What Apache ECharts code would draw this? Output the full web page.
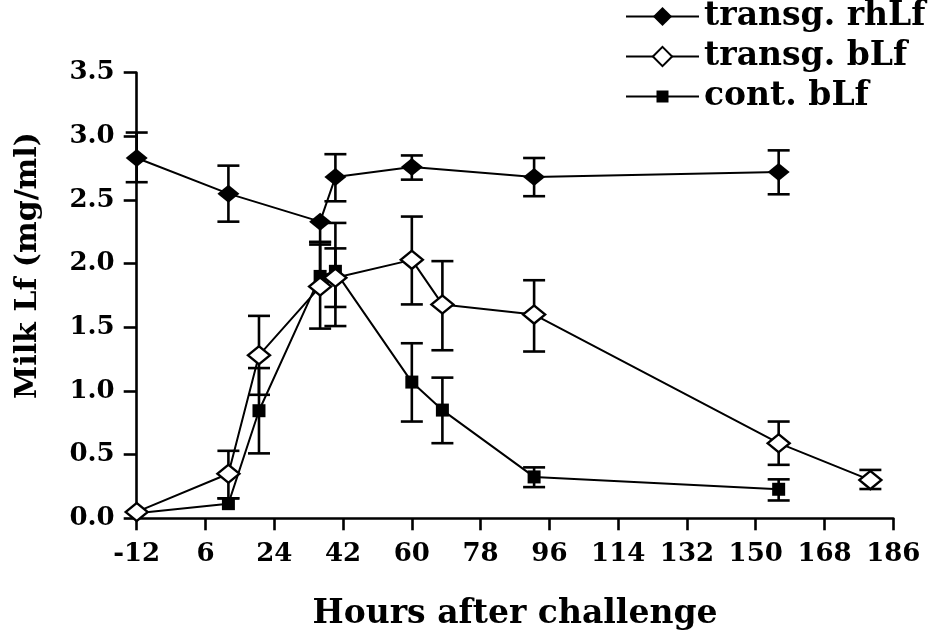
<!DOCTYPE html>
<html>
<head>
<meta charset="utf-8">
<script src="https://cdn.jsdelivr.net/npm/echarts@6/dist/echarts.min.js"></script>
<style>
  html, body { margin: 0; padding: 0; background: #fff; }
  #chart { width: 937px; height: 630px; }
</style>
</head>
<body>
<div id="chart"></div>
<script>
// Milk lactoferrin after challenge: means with error bar ends (low / high)
const xTicks = [-12, 6, 24, 42, 60, 78, 96, 114, 132, 150, 168, 186];
const yTicks = [0, 0.5, 1.0, 1.5, 2.0, 2.5, 3.0, 3.5];

const hoursRh = [-12, 12, 36, 40, 60, 92, 156];
const rhLf     = [2.83, 2.55, 2.33, 2.68, 2.76, 2.68, 2.72];
const rhLfLow  = [2.64, 2.33, 2.17, 2.49, 2.66, 2.53, 2.545];
const rhLfHigh = [3.03, 2.77, 2.33, 2.86, 2.85, 2.83, 2.89];

const hoursTb = [-12, 12, 20, 36, 40, 60, 68, 92, 156, 180];
const transgBLf     = [0.05, 0.35, 1.28, 1.82, 1.89, 2.03, 1.68, 1.60, 0.59, 0.30];
const transgBLfLow  = [0.05, 0.157, 0.97, 1.49, 1.66, 1.68, 1.32, 1.31, 0.42, 0.23];
const transgBLfHigh = [0.05, 0.53, 1.59, 2.15, 2.12, 2.37, 2.02, 1.87, 0.76, 0.38];

const hoursCb = [-12, 12, 20, 36, 40, 60, 68, 92, 156];
const contBLf     = [0.04, 0.115, 0.845, 1.90, 1.94, 1.07, 0.85, 0.325, 0.228];
const contBLfLow  = [0.04, 0.115, 0.51, 1.90, 1.51, 0.76, 0.59, 0.245, 0.14];
const contBLfHigh = [0.04, 0.157, 1.18, 2.17, 2.32, 1.375, 1.105, 0.40, 0.306];

const FONT = 'DejaVu Serif';
const BLACK = '#000';

function pairs(xs, ys) { return xs.map((x, i) => [x, ys[i]]); }
function bars(xs, ys, lo, hi) { return xs.map((x, i) => [x, lo[i], hi[i], ys[i]]); }

function renderErrorBar(params, api) {
  const x = api.value(0), lo = api.value(1), hi = api.value(2), v = api.value(3);
  const pLo = api.coord([x, lo]);
  const pHi = api.coord([x, hi]);
  const half = 11;
  const st = { stroke: BLACK, lineWidth: 2.6 };
  const children = [];
  if (hi > lo) {
    children.push({ type: 'line', shape: { x1: pLo[0], y1: pLo[1], x2: pHi[0], y2: pHi[1] }, style: st });
  }
  if (hi > v) {
    children.push({ type: 'line', shape: { x1: pHi[0] - half, y1: pHi[1], x2: pHi[0] + half, y2: pHi[1] }, style: st });
  }
  if (lo < v) {
    children.push({ type: 'line', shape: { x1: pLo[0] - half, y1: pLo[1], x2: pLo[0] + half, y2: pLo[1] }, style: st });
  }
  return { type: 'group', children: children };
}

function errorSeries(name, data) {
  return {
    name: name,
    type: 'custom',
    renderItem: renderErrorBar,
    encode: { x: 0, y: [1, 2] },
    data: data,
    z: 1,
    silent: true
  };
}

// the first control sample sits under the open diamond at -12 h
const contData = pairs(hoursCb, contBLf).map((p, i) => i === 0 ? { value: p, symbolSize: 0 } : p);

const legendText = { fontFamily: FONT, fontWeight: 'bold', fontSize: 33, color: BLACK };
function legendRow(name, top, h) {
  return {
    data: [name],
    left: 625, top: top,
    padding: 0,
    itemWidth: 73, itemHeight: h,
    textStyle: legendText,
    selectedMode: false
  };
}

const option = {
  animation: false,
  backgroundColor: '#fff',
  grid: { left: 136.7, top: 72.7, width: 756.6, height: 445.6, containLabel: false, outerBoundsMode: 'none' },
  legend: [
    legendRow('transg. rhLf', 0, 24),
    legendRow('transg. bLf', 40, 24),
    legendRow('cont. bLf', 80, 15)
  ],
  xAxis: {
    type: 'value',
    min: xTicks[0], max: xTicks[xTicks.length - 1], interval: xTicks[1] - xTicks[0],
    name: 'Hours after challenge',
    nameLocation: 'middle',
    nameGap: 80,
    nameTextStyle: { fontFamily: FONT, fontWeight: 'bold', fontSize: 33, color: BLACK },
    axisLine: { onZero: false, lineStyle: { color: BLACK, width: 2.6 } },
    axisTick: { show: true, inside: false, length: 12, lineStyle: { color: BLACK, width: 2.6 } },
    axisLabel: { margin: 23, fontFamily: FONT, fontWeight: 'bold', fontSize: 26, color: BLACK },
    splitLine: { show: false }
  },
  yAxis: {
    type: 'value',
    min: yTicks[0], max: yTicks[yTicks.length - 1], interval: yTicks[1] - yTicks[0],
    name: 'Milk Lf (mg/ml)',
    nameLocation: 'middle',
    nameGap: 93,
    nameRotate: 90,
    nameTextStyle: { fontFamily: FONT, fontWeight: 'bold', fontSize: 30, color: BLACK, padding: [0, 0, 0, 60] },
    axisLine: { show: true, onZero: false, lineStyle: { color: BLACK, width: 2.6 } },
    axisTick: { show: true, inside: false, length: 13, lineStyle: { color: BLACK, width: 2.6 } },
    axisLabel: { margin: 22, fontFamily: FONT, fontWeight: 'bold', fontSize: 26, color: BLACK,
                 formatter: v => v.toFixed(1) },
    splitLine: { show: false }
  },
  series: [
    errorSeries('err-cont', bars(hoursCb, contBLf, contBLfLow, contBLfHigh)),
    errorSeries('err-transg-b', bars(hoursTb, transgBLf, transgBLfLow, transgBLfHigh)),
    errorSeries('err-transg-rh', bars(hoursRh, rhLf, rhLfLow, rhLfHigh)),
    {
      name: 'cont. bLf', type: 'line', data: contData, z: 3,
      symbol: 'rect', symbolSize: 13,
      itemStyle: { color: BLACK },
      lineStyle: { color: BLACK, width: 2 }
    },
    {
      name: 'transg. bLf', type: 'line', data: pairs(hoursTb, transgBLf), z: 4,
      symbol: 'diamond', symbolSize: [22, 18],
      itemStyle: { color: '#fff', borderColor: BLACK, borderWidth: 2.4 },
      lineStyle: { color: BLACK, width: 2 }
    },
    {
      name: 'transg. rhLf', type: 'line', data: pairs(hoursRh, rhLf), z: 5,
      symbol: 'diamond', symbolSize: [22, 18],
      itemStyle: { color: BLACK },
      lineStyle: { color: BLACK, width: 2 }
    }
  ]
};

const chart = echarts.init(document.getElementById('chart'), null, { renderer: 'canvas' });
chart.setOption(option);
</script>
</body>
</html>
